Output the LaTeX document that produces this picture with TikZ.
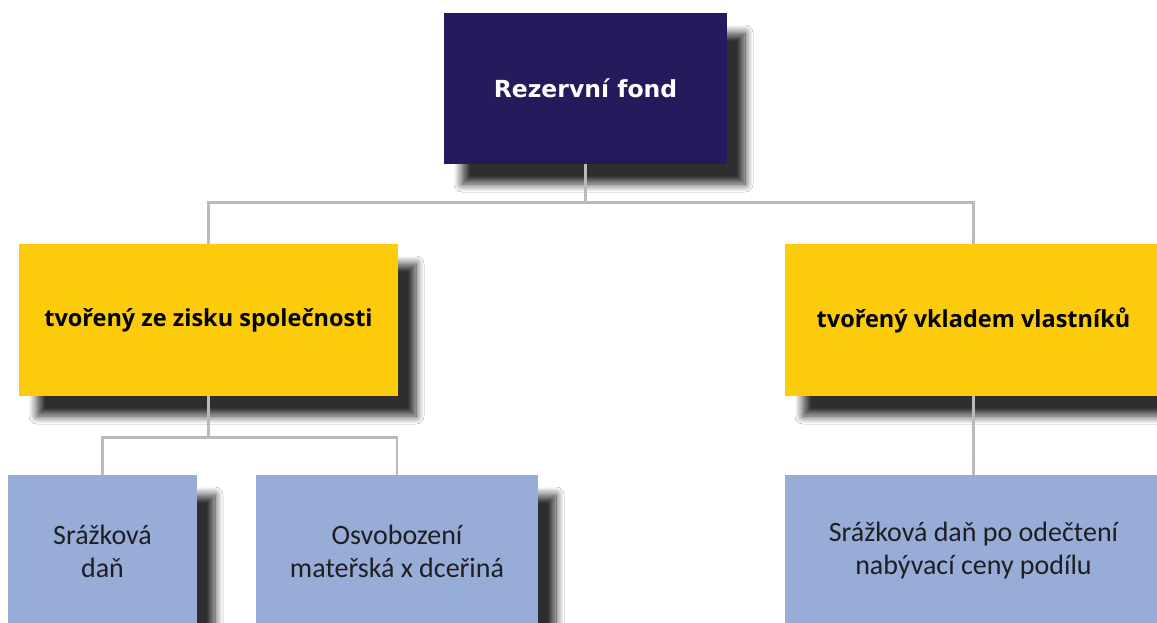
\documentclass[tikz,border=0pt]{standalone}
\usepackage{fontspec}
\setmainfont{Carlito}
\newfontfamily\topfont{DejaVu Sans}
\newfontfamily\yelfont{Open Sans}
\newfontfamily\lowfont{Carlito}
\usetikzlibrary{shadows.blur}
\definecolor{navy}{RGB}{38,26,92}
\definecolor{yel}{RGB}{252,203,10}
\definecolor{blu}{RGB}{151,172,214}
\definecolor{conncol}{RGB}{185,185,190}
\definecolor{txtgray}{RGB}{30,30,35}
\tikzset{
  shad/.style={blur shadow={shadow xshift=18pt, shadow yshift=-20pt, shadow blur radius=8pt, shadow blur steps=12, shadow opacity=82}},
  topbox/.style={shad, fill=navy, draw=none, minimum width=283pt, minimum height=151pt, inner sep=0pt,
    text=white, font=\topfont\bfseries\fontsize{23.5}{28}\selectfont},
  yelbox/.style={shad, fill=yel, draw=none, minimum height=152pt, inner sep=0pt, align=center,
    text=black, font=\yelfont\bfseries\fontsize{23.5}{28}\selectfont},
  blubox/.style={shad, fill=blu, draw=none, minimum height=152pt, inner sep=0pt, align=center,
    text=txtgray, font=\lowfont\fontsize{28}{33}\selectfont},
  conn/.style={draw=conncol, line width=2.6pt}
}
\begin{document}
\begin{tikzpicture}[x=1pt,y=-1pt]
\useasboundingbox (0,0) rectangle (1157,623);
\clip (0,0) rectangle (1157,623);
\fill[white] (0,0) rectangle (1157,623);
\node[topbox] (top) at (585.5,88.5) {Rezervní fond};
\node[yelbox, minimum width=379pt] (ly) at (208.5,320) {tvořený ze zisku společnosti};
\node[yelbox, minimum width=377pt] (ry) at (973.5,320) {tvořený vkladem vlastníků};
\node[blubox, minimum width=189pt] (b1) at (102.5,551) {Srážková\\daň};
\node[blubox, minimum width=282pt] (b2) at (397,551) {Osvobození\\mateřská x dceřiná};
\node[blubox, minimum width=377pt] (b3) at (973.5,551) {Srážková daň po odečtení\\nabývací ceny podílu};
\draw[conn] (top.south) -- ++(0,38) coordinate (j1);
\draw[conn] (ly.north) |- (j1) -| (ry.north);
\draw[conn] (ly.south) -- ++(0,41) coordinate (j2);
\draw[conn] (b1.north) |- (j2) -| (b2.north);
\draw[conn] (ry.south) -- (b3.north);
\end{tikzpicture}
\end{document}
